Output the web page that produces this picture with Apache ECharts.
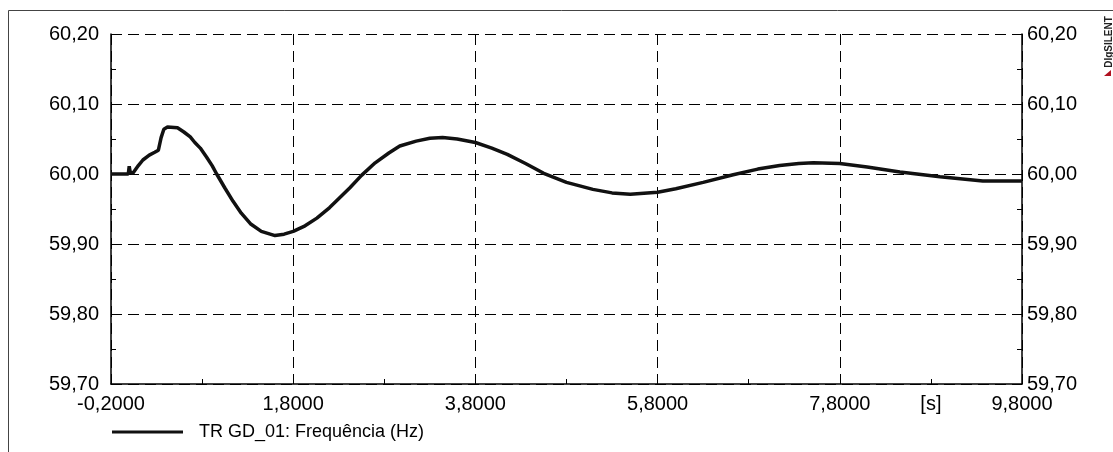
<!DOCTYPE html>
<html>
<head>
<meta charset="utf-8">
<script src="https://cdn.jsdelivr.net/npm/echarts@6/dist/echarts.min.js"></script>
<style>
  html, body { margin: 0; padding: 0; background: #fff; }
  #chart { width: 1113px; height: 452px; }
</style>
</head>
<body>
<div id="chart"></div>
<script>
// time in seconds
var times = [
  -0.20, -0.01, 0.00, 0.01, 0.04, 0.10, 0.15, 0.22, 0.28, 0.32,
  0.35, 0.38, 0.42, 0.53, 0.60, 0.67, 0.72, 0.78, 0.85, 0.91,
  0.96, 1.05, 1.14, 1.23, 1.33, 1.45, 1.60, 1.70, 1.80, 1.93,
  2.06, 2.20, 2.31, 2.42, 2.55, 2.70, 2.85, 2.97, 3.15, 3.30,
  3.44, 3.60, 3.80, 3.98, 4.15, 4.35, 4.55, 4.80, 5.09, 5.30,
  5.50, 5.80, 6.00, 6.30, 6.63, 6.90, 7.14, 7.35, 7.51, 7.80,
  8.10, 8.46, 8.90, 9.37, 9.80
];
// frequency in Hz
var freq = [
  60.000, 60.000, 60.011, 60.003, 60.001, 60.012, 60.020, 60.027, 60.031, 60.034,
  60.052, 60.064, 60.067, 60.066, 60.060, 60.053, 60.045, 60.037, 60.024, 60.012,
  60.000, 59.980, 59.961, 59.944, 59.929, 59.918, 59.912, 59.914, 59.918, 59.926,
  59.937, 59.952, 59.966, 59.980, 59.998, 60.016, 60.030, 60.040, 60.047, 60.051,
  60.052, 60.050, 60.045, 60.037, 60.028, 60.015, 60.001, 59.988, 59.978, 59.973,
  59.971, 59.974, 59.979, 59.988, 59.999, 60.007, 60.012, 60.015, 60.016, 60.015,
  60.010, 60.003, 59.996, 59.990, 59.990
];
var seriesName = 'TR GD_01: Frequência (Hz)';
var xUnit = '[s]';

var font = 'Liberation Sans, Arial, sans-serif';
var points = times.map(function (t, i) { return [t, freq[i]]; });

function fmtX(v) { return v.toFixed(4).replace('.', ','); }
function fmtY(v) { return v.toFixed(2).replace('.', ','); }

var chart = echarts.init(document.getElementById('chart'));
var dashed = { show: true, lineStyle: { color: '#000', width: 1, type: [11, 6] } };
var minor = { show: true, splitNumber: 2, length: 5, lineStyle: { color: '#000', width: 1 } };
var solidAxis = { show: true, onZero: false, lineStyle: { color: '#000', width: 1.5 } };

var option = {
  animation: false,
  backgroundColor: '#fff',
  grid: { left: 111, right: 91, top: 34, bottom: 68, containLabel: false, outerBoundsMode: 'none' },
  legend: {
    data: [{ name: seriesName, icon: 'rect' }],
    left: 112, top: 423, padding: 0,
    itemWidth: 71, itemHeight: 3,
    textStyle: { fontFamily: font, fontSize: 18, color: '#000', padding: [0, 0, 0, 11] }
  },
  xAxis: [
    {
      type: 'value', min: -0.2, max: 9.8, interval: 2,
      axisLine: solidAxis,
      axisTick: { show: true, inside: true, length: 0 },
      minorTick: minor,
      splitLine: dashed,
      axisLabel: { formatter: fmtX, margin: 10, fontFamily: font, fontSize: 20, color: '#000' }
    },
    {
      type: 'value', min: -0.2, max: 9.8, interval: 1, position: 'bottom',
      axisLine: { show: false, onZero: false }, axisTick: { show: false }, splitLine: { show: false },
      axisLabel: {
        margin: 10, fontFamily: font, fontSize: 20, color: '#000',
        formatter: function (v) { return Math.abs(v - 8.8) < 1e-6 ? xUnit : ''; }
      }
    }
  ],
  yAxis: [
    {
      type: 'value', min: 59.7, max: 60.2, interval: 0.1, position: 'left',
      axisLine: solidAxis,
      axisTick: { show: true, inside: true, length: 0 },
      minorTick: minor,
      splitLine: dashed,
      axisLabel: { formatter: fmtY, margin: 12, fontFamily: font, fontSize: 20, color: '#000' }
    },
    {
      type: 'value', min: 59.7, max: 60.2, interval: 0.1, position: 'right',
      axisLine: solidAxis,
      axisTick: { show: true, inside: true, length: 0 },
      minorTick: minor,
      splitLine: { show: false },
      axisLabel: { formatter: fmtY, margin: 5, fontFamily: font, fontSize: 20, color: '#000' }
    }
  ],
  series: [
    {
      name: seriesName,
      type: 'line',
      data: points,
      showSymbol: false,
      symbol: 'none',
      lineStyle: { color: '#111', width: 3.5 },
      itemStyle: { color: '#111' }
    }
  ],
  graphic: [
    { type: 'rect', shape: { x: 8.5, y: 10.5, width: 1200, height: 500 }, style: { fill: 'none', stroke: '#444', lineWidth: 1 }, silent: true },
    { type: 'text', x: 1109, y: 42, rotation: Math.PI / 2,
      style: { text: 'DIgSILENT', font: 'bold 10px ' + font, fill: '#222', align: 'center', verticalAlign: 'middle' } },
    { type: 'polygon', shape: { points: [[1104, 76], [1111, 70], [1111, 76]] }, style: { fill: '#b01020' } }
  ]
};
chart.setOption(option);
</script>
</body>
</html>
